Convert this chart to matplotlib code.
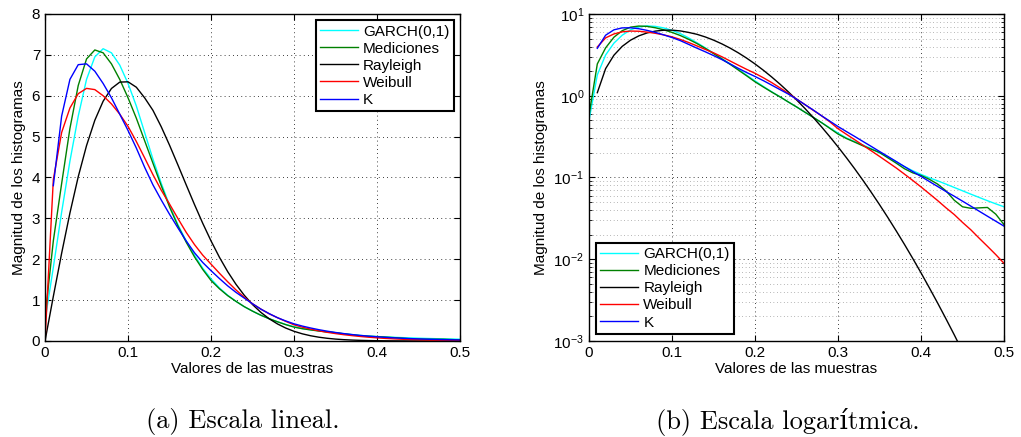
import numpy as np
import matplotlib.pyplot as plt

plt.rcParams['font.family'] = ['Liberation Sans', 'DejaVu Sans']
plt.rcParams['mathtext.default'] = 'regular'

# sample values (0 .. 0.5, step 0.01)
x = np.arange(51) / 100

garch = [0.50, 1.80, 3.15, 4.40, 5.50, 6.40, 6.95, 7.15, 7.05, 6.75, 6.30, 5.75, 5.10, 4.45,
         3.86, 3.32, 2.85, 2.45, 2.10, 1.78, 1.52, 1.30, 1.12, 0.97, 0.84, 0.73, 0.63, 0.545,
         0.47, 0.405, 0.35, 0.305, 0.275, 0.25, 0.225, 0.20, 0.178, 0.156, 0.136, 0.121, 0.109,
         0.099, 0.091, 0.083, 0.0755, 0.0687, 0.0625, 0.057, 0.052, 0.0476, 0.0438]
mediciones = [0.58, 2.45, 3.85, 5.20, 6.25, 6.90, 7.12, 7.05, 6.78, 6.40, 5.95, 5.45, 4.90, 4.35,
              3.80, 3.28, 2.82, 2.42, 2.06, 1.75, 1.48, 1.28, 1.11, 0.97, 0.84, 0.73, 0.63, 0.545,
              0.47, 0.40, 0.34, 0.30, 0.271, 0.244, 0.222, 0.202, 0.174, 0.150, 0.128, 0.114, 0.106,
              0.095, 0.083, 0.0687, 0.0527, 0.0438, 0.042, 0.0425, 0.043, 0.0356, 0.0265]
rayleigh = [0, 1.090, 2.145, 3.131, 4.018, 4.780, 5.400, 5.866, 6.177, 6.333, 6.341, 6.208, 5.949,
            5.643, 5.241, 4.790, 4.311, 3.823, 3.341, 2.879, 2.448, 2.052, 1.698, 1.388, 1.119,
            0.891, 0.7005, 0.5441, 0.4175, 0.3162, 0.2367, 0.1751, 0.1280, 0.0924, 0.0659, 0.0465,
            0.0324, 0.0223, 0.0152, 0.01023, 0.00681, 0.00447, 0.00291, 0.00187, 0.00119,
            0.000745, 0.000462, 0.000283, 0.000171, 0.000102, 0.00006]
weibull = [0, 3.95, 5.10, 5.70, 6.05, 6.18, 6.15, 6.00, 5.80, 5.55, 5.25, 4.88, 4.48, 4.07, 3.69,
           3.35, 3.00, 2.66, 2.36, 2.10, 1.88, 1.66, 1.45, 1.25, 1.07, 0.91, 0.78, 0.665, 0.57,
           0.48, 0.395, 0.338, 0.29, 0.248, 0.212, 0.181, 0.154, 0.131, 0.110, 0.092, 0.0766,
           0.0633, 0.0522, 0.0426, 0.0352, 0.0282, 0.0229, 0.0181, 0.0144, 0.0114, 0.0089]
k_dist = [np.nan, 3.80, 5.50, 6.40, 6.76, 6.78, 6.60, 6.30, 5.95, 5.55, 5.15, 4.72, 4.25, 3.82,
          3.45, 3.10, 2.77, 2.45, 2.16, 1.92, 1.72, 1.53, 1.35, 1.19, 1.05, 0.91, 0.78, 0.67,
          0.57, 0.49, 0.42, 0.365, 0.318, 0.276, 0.240, 0.208, 0.181, 0.157, 0.136, 0.118, 0.103,
          0.0893, 0.0776, 0.0674, 0.059, 0.0513, 0.0446, 0.0387, 0.0336, 0.0292, 0.0254]

series = [garch, mediciones, rayleigh, weibull, k_dist]
labels = ['GARCH(0,1)', 'Mediciones', 'Rayleigh', 'Weibull', 'K']
colors = ['#00ffff', '#008000', 'k', '#ff0000', '#0000ff']

fig = plt.figure(figsize=(10.21, 4.37), dpi=100)
ax1 = fig.add_axes([0.0441, 0.2197, 0.4065, 0.7483])
ax2 = fig.add_axes([0.5769, 0.2197, 0.4065, 0.7483])

for ax in (ax1, ax2):
    for y, lab, c in zip(series, labels, colors):
        ax.plot(x, y, color=c, lw=1.0, label=lab)
    ax.set_xlim(0, 0.5)
    ax.set_xticks([0, 0.1, 0.2, 0.3, 0.4, 0.5])
    ax.set_xticklabels(['0', '0.1', '0.2', '0.3', '0.4', '0.5'])
    ax.tick_params(direction='in', top=True, right=True, length=4, labelsize=11, pad=3.5)
    ax.grid(True, which='major', color='k', linestyle=(0, (1, 4)), lw=0.6)
    for s in ax.spines.values():
        s.set_linewidth(1.0)
    ax.set_xlabel('Valores de las muestras', fontsize=11, labelpad=1.5)
    ax.set_ylabel('Magnitud de los histogramas', fontsize=11, labelpad=4)

# linear scale
ax1.set_ylim(0, 8)
ax1.set_yticks(range(0, 9))
ax1.legend(loc='upper right', fontsize=11, frameon=True, fancybox=False, edgecolor='k',
           framealpha=1, borderaxespad=0.4, borderpad=0.3, labelspacing=0.2,
           handlelength=2.45, handletextpad=0.35).get_frame().set_linewidth(1.5)

# log scale
ax2.set_yscale('log', nonpositive='mask')
ax2.set_ylim(1e-3, 1e1)
ax2.tick_params(which='minor', direction='in', right=True, length=2)
ax2.grid(True, which='minor', axis='y', color='0.45', linestyle=(0, (1, 4)), lw=0.5)
ax2.legend(loc='lower left', fontsize=11, frameon=True, fancybox=False, edgecolor='k',
           framealpha=1, borderaxespad=0.45, borderpad=0.3, labelspacing=0.2,
           handlelength=2.45, handletextpad=0.35).get_frame().set_linewidth(1.5)

fig.text(0.2375, 0.035, '(a) Escala lineal.', ha='center', va='center',
         fontsize=19, family=['cmr10', 'DejaVu Serif'])
fig.text(0.7713, 0.035, '(b) Escala logarítmica.', ha='center', va='center',
         fontsize=19, family=['cmr10', 'DejaVu Serif'])

fig.savefig('out.png', dpi=100)
